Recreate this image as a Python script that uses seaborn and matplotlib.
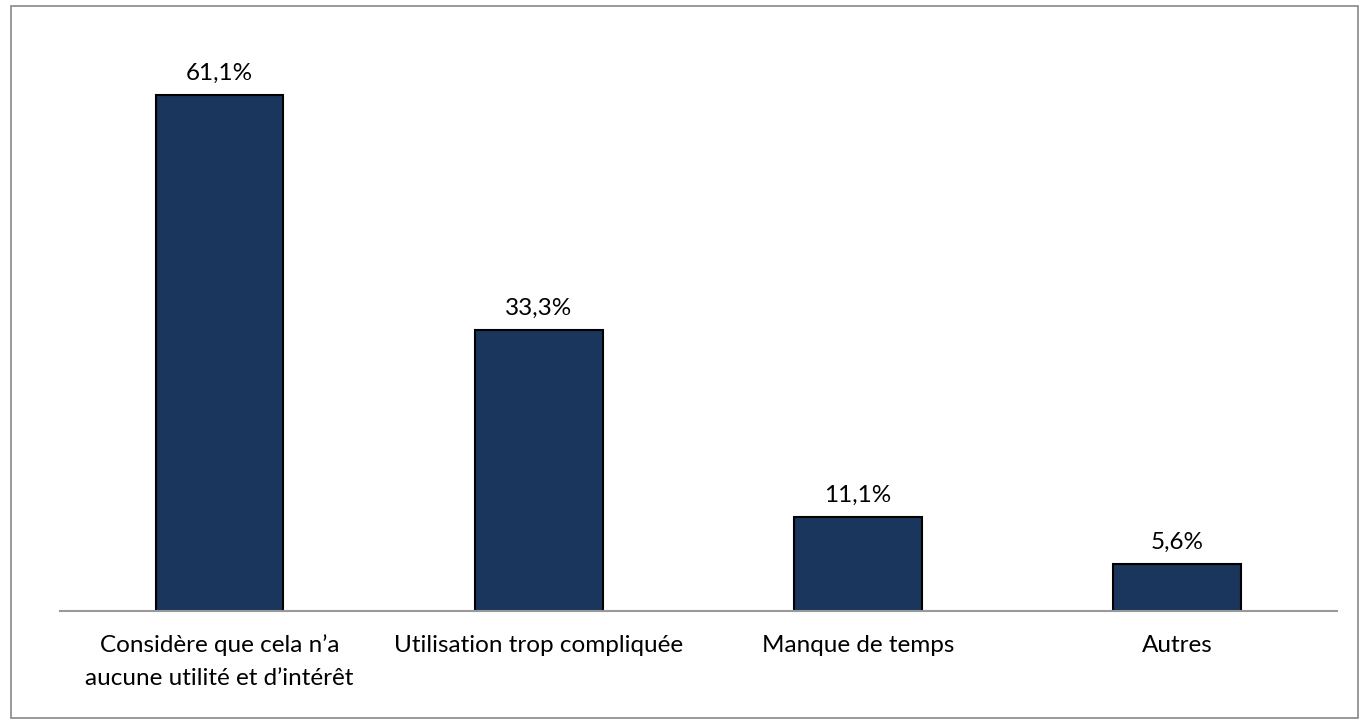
import matplotlib
matplotlib.use("Agg")
import matplotlib.pyplot as plt
import seaborn as sns
import pandas as pd
from matplotlib.patches import Rectangle

categories = ["Considère que cela n’a\naucune utilité et d’intérêt",
              "Utilisation trop compliquée",
              "Manque de temps",
              "Autres"]
values = [61.1, 33.3, 11.1, 5.6]
value_labels = ["61,1%", "33,3%", "11,1%", "5,6%"]

sns.set_theme(style="white")
plt.rcParams['font.family'] = ['Lato', 'DejaVu Sans']

fig = plt.figure(figsize=(13.69, 7.24), dpi=100)
ax = fig.add_axes([0.0438, 0.1561, 0.9328, 0.8163])

df = pd.DataFrame({"cat": categories, "val": values})
sns.barplot(data=df, x="cat", y="val", ax=ax, color="#1b365d", width=0.4,
            edgecolor="black", linewidth=1.5, saturation=1)

for i, (v, lab) in enumerate(zip(values, value_labels)):
    ax.annotate(lab, (i, v), xytext=(0, 8), textcoords="offset points",
                ha="center", va="bottom", fontsize=17.5, color="black")

ax.set_xlim(-0.5, 3.5)
ax.set_ylim(0, 70)
ax.set_xlabel("")
ax.set_ylabel("")
ax.set_yticks([])
for s in ["top", "right", "left"]:
    ax.spines[s].set_visible(False)
ax.spines["bottom"].set_color("#999999")
ax.spines["bottom"].set_linewidth(1.5)
ax.tick_params(axis="x", length=0, pad=17, labelsize=17.5, labelcolor="black")
for t in ax.get_xticklabels():
    t.set_linespacing(1.7)

fig.patches.append(Rectangle((0.008, 0.008), 0.984, 0.984, transform=fig.transFigure,
                             fill=False, edgecolor="#888888", linewidth=1.2))

fig.savefig("out.png", dpi=100)
